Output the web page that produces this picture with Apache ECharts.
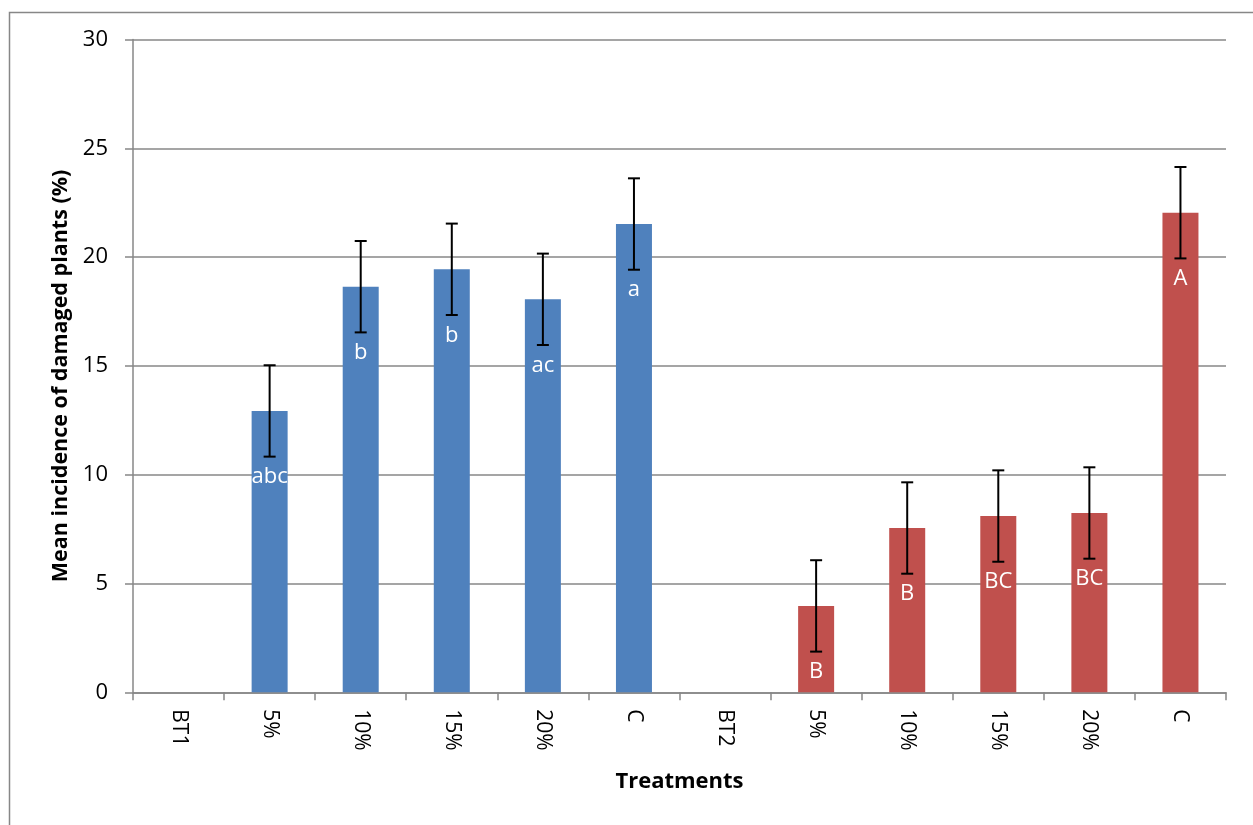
<!DOCTYPE html>
<html>
<head>
<meta charset="utf-8">
<title>Mean incidence of damaged plants</title>
<script src="https://cdn.jsdelivr.net/npm/echarts@6/dist/echarts.min.js"></script>
<style>
  html, body { margin: 0; padding: 0; background: #fff; }
  #chart { width: 1253px; height: 825px; }
</style>
</head>
<body>
<div id="chart"></div>
<script>
// Treatment categories: two groups (BT1, BT2), each with four doses and a control
const categories = ['BT1', '5%', '10%', '15%', '20%', 'C', 'BT2', '5%', '10%', '15%', '20%', 'C'];

// Mean incidence of damaged plants (%) per group; the group header has no bar
const bt1Means = [null, 12.93, 18.64, 19.44, 18.06, 21.52];
const bt2Means = [null, 3.97, 7.55, 8.10, 8.24, 22.04];

// Standard errors
const bt1Errors = [null, 2.1, 2.1, 2.1, 2.1, 2.1];
const bt2Errors = [null, 2.1, 2.1, 2.1, 2.1, 2.1];

// Significance letters
const bt1Letters = ['', 'abc', 'b', 'b', 'ac', 'a'];
const bt2Letters = ['', 'B', 'B', 'BC', 'BC', 'A'];

// Value axis ticks
const yTicks = { min: 0, max: 30, interval: 5 };

const FONT = '"Open Sans"';
const GRAY = '#878787';
const BLUE = '#4F81BD';
const RED = '#C0504D';

const n1 = bt1Means.length;
const blueData = categories.map((_, i) => (i < n1 ? bt1Means[i] : null));
const redData = categories.map((_, i) => (i >= n1 ? bt2Means[i - n1] : null));
const letters = bt1Letters.concat(bt2Letters);

const errorData = [];
bt1Means.forEach((m, i) => { if (m != null) errorData.push([i, m, bt1Errors[i]]); });
bt2Means.forEach((m, i) => { if (m != null) errorData.push([i + n1, m, bt2Errors[i]]); });

const barLabel = {
  show: true,
  position: 'insideTop',
  offset: [0, 50],
  color: '#fff',
  fontFamily: FONT,
  fontSize: 22,
  formatter: p => letters[p.dataIndex] || ''
};

const chart = echarts.init(document.getElementById('chart'), null, { renderer: 'canvas' });

chart.setOption({
  animation: false,
  backgroundColor: '#fff',
  graphic: [{
    type: 'rect',
    left: 7, top: 10, z: -10,
    shape: { width: 1300, height: 900 },
    style: { fill: 'none', stroke: GRAY, lineWidth: 1.5 }
  }],
  grid: { left: 133, right: 27, top: 39.5, bottom: 132.7 },
  xAxis: {
    type: 'category',
    data: categories,
    name: 'Treatments',
    nameLocation: 'middle',
    nameGap: 78,
    nameTextStyle: { fontFamily: FONT, fontSize: 22, fontWeight: 'bold', color: '#000' },
    axisLine: { show: true, lineStyle: { color: GRAY, width: 1.5 } },
    axisTick: { show: true, length: 8, alignWithLabel: false, lineStyle: { color: GRAY, width: 1.5 } },
    axisLabel: { interval: 0, rotate: -90, margin: 17, fontFamily: FONT, fontSize: 21, color: '#000' },
    splitLine: { show: false }
  },
  yAxis: {
    type: 'value',
    min: yTicks.min, max: yTicks.max, interval: yTicks.interval,
    name: 'Mean incidence of damaged plants (%)',
    nameLocation: 'middle',
    nameGap: 58,
    nameTextStyle: { fontFamily: FONT, fontSize: 21.5, fontWeight: 'bold', color: '#000', padding: [0, 20, 0, 0] },
    axisLine: { show: true, lineStyle: { color: GRAY, width: 1.5 } },
    axisTick: { show: true, length: 8, lineStyle: { color: GRAY, width: 1.5 } },
    axisLabel: { margin: 25, fontFamily: FONT, fontSize: 22, color: '#000' },
    splitLine: { show: true, lineStyle: { color: GRAY, width: 1.5 } }
  },
  series: [
    {
      name: 'BT1', type: 'bar', data: blueData, barWidth: 36, barGap: '-100%',
      itemStyle: { color: BLUE }, label: barLabel
    },
    {
      name: 'BT2', type: 'bar', data: redData, barWidth: 36, barGap: '-100%',
      itemStyle: { color: RED }, label: barLabel
    },
    {
      name: 'SE', type: 'custom', data: errorData, z: 10,
      encode: { x: 0, y: 1 },
      renderItem: (params, api) => {
        const x = api.value(0), m = api.value(1), e = api.value(2);
        const hi = api.coord([x, m + e]);
        const lo = api.coord([x, m - e]);
        const cap = 6;
        const style = { stroke: '#000', lineWidth: 2 };
        return {
          type: 'group',
          children: [
            { type: 'line', shape: { x1: hi[0], y1: hi[1], x2: lo[0], y2: lo[1] }, style },
            { type: 'line', shape: { x1: hi[0] - cap, y1: hi[1], x2: hi[0] + cap, y2: hi[1] }, style },
            { type: 'line', shape: { x1: lo[0] - cap, y1: lo[1], x2: lo[0] + cap, y2: lo[1] }, style }
          ]
        };
      }
    }
  ]
});
</script>
</body>
</html>
